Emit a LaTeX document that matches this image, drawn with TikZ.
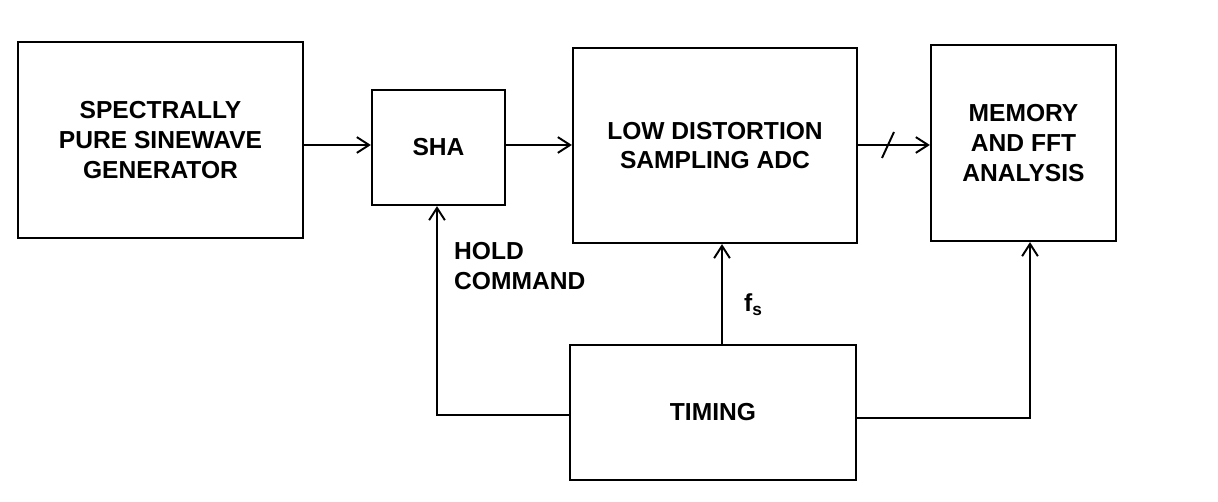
\documentclass[tikz,border=0pt]{standalone}
\usepackage{fontspec}
\setmainfont{Liberation Sans}
\usetikzlibrary{arrows.meta}
\begin{document}
\begin{tikzpicture}[x=0.02cm,y=-0.02cm,
  box/.style={draw,line width=1.3pt,inner sep=0pt,font=\bfseries\fontsize{14}{17}\selectfont,align=center},
  lab/.style={font=\bfseries\fontsize{14}{17}\selectfont,align=left},
  arr/.style={line width=1.1pt,-{Straight Barb[length=7pt,width=9pt]}}]
\useasboundingbox (0,0) rectangle (1218,502);
\fill[white] (0,0) rectangle (1218,502);
\node[box,minimum width=5.7cm,minimum height=3.92cm] (gen) at (160.5,140) {SPECTRALLY\\PURE SINEWAVE\\GENERATOR};
\node[box,minimum width=2.66cm,minimum height=2.3cm] (sha) at (438.5,147.5) {SHA};
\node[box,minimum width=5.68cm,minimum height=3.9cm] (adc) at (715,145.5) {LOW DISTORTION\\SAMPLING ADC};
\node[box,minimum width=3.7cm,minimum height=3.92cm] (mem) at (1023.5,143) {MEMORY\\AND FFT\\ANALYSIS};
\node[box,minimum width=5.72cm,minimum height=2.7cm] (tim) at (713,412.5) {TIMING};
\draw[arr] (gen.east|-0,145) -- (sha.west|-0,145);
\draw[arr] (sha.east|-0,145) -- (adc.west|-0,145);
\draw[arr] (adc.east|-0,145) -- (mem.west|-0,145);
\draw[line width=1.1pt] (882,158) -- (894,132);
\draw[arr] (tim.west|-0,415) -- (437,415) -- (sha.south-|437,0);
\draw[arr] (tim.north-|722,0) -- (adc.south-|722,0);
\draw[arr] (tim.east|-0,418) -- (1030,418) -- (mem.south-|1030,0);
\node[lab,anchor=north west] (hold) at (448,236) {HOLD\\COMMAND};
\node[lab,anchor=west] (fs) at (738,305) {f\textsubscript{s}};
\end{tikzpicture}
\end{document}
